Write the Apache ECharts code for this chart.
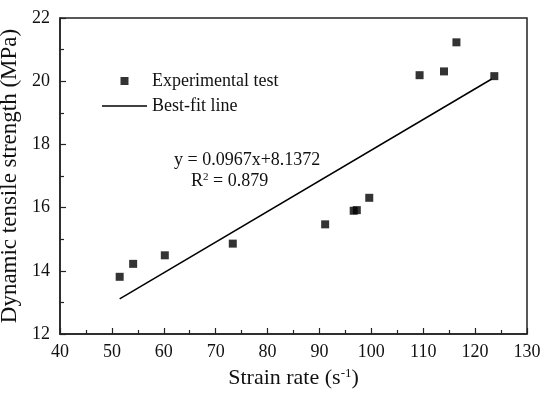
<!DOCTYPE html>
<html>
<head>
<meta charset="utf-8">
<script src="https://cdn.jsdelivr.net/npm/echarts@6/dist/echarts.min.js"></script>
<style>html,body{margin:0;padding:0;background:#fff}#c{width:550px;height:394px}</style>
</head>
<body>
<div id="c"></div>
<script>
// Data
const strainRate = [51.5, 54.1, 60.2, 73.3, 91.1, 96.6, 97.2, 99.6, 109.3, 114.0, 116.4, 123.7];
const strength   = [13.81, 14.22, 14.49, 14.86, 15.47, 15.90, 15.92, 16.31, 20.19, 20.31, 21.23, 20.16];
const fitX = [51.5, 123.2];
const fitY = [13.11, 20.07];
const xTicks = [40, 50, 60, 70, 80, 90, 100, 110, 120, 130];
const yTicks = [12, 14, 16, 18, 20, 22];
const seriesNames = ['Experimental test', 'Best-fit line'];
const equationText = 'y = 0.0967x+8.1372';
const r2Value = '0.879';

const FONT = 'Liberation Serif';
const AX = '#222';

const chart = echarts.init(document.getElementById('c'), null, {renderer: 'canvas'});
const axisCommon = {
  type: 'value',
  axisLine: {show: true, lineStyle: {color: AX, width: 1.5}},
  axisTick: {show: true, inside: true, length: 6, lineStyle: {color: AX, width: 1.2}},
  minorTick: {show: true, splitNumber: 2, length: 4, lineStyle: {color: AX, width: 1.2}},
  splitLine: {show: false},
  minorSplitLine: {show: false},
  axisLabel: {fontFamily: FONT, fontSize: 18, color: '#111'}
};
chart.setOption({
  animation: false,
  backgroundColor: '#fff',
  grid: {left: 60, right: 23, top: 18, bottom: 60, containLabel: false, outerBoundsMode: 'none',
         show: true, borderColor: AX, borderWidth: 1.5, backgroundColor: 'transparent'},
  xAxis: Object.assign({}, axisCommon, {
    min: xTicks[0], max: xTicks[xTicks.length - 1], interval: 10,
    axisLabel: Object.assign({}, axisCommon.axisLabel, {margin: 9}),
    name: '{a|Strain rate (s}{s|-1}{a|)}',
    nameLocation: 'middle', nameGap: 33,
    nameTextStyle: {rich: {
      a: {fontFamily: FONT, fontSize: 22, color: '#111'},
      s: {fontFamily: FONT, fontSize: 13, color: '#111', verticalAlign: 'top', padding: [0, 0, 10, 0]}
    }}
  }),
  yAxis: Object.assign({}, axisCommon, {
    min: yTicks[0], max: yTicks[yTicks.length - 1], interval: 2,
    axisLabel: Object.assign({}, axisCommon.axisLabel, {margin: 10}),
    name: 'Dynamic tensile strength (MPa)',
    nameLocation: 'middle', nameGap: 35,
    nameTextStyle: {fontFamily: FONT, fontSize: 23, color: '#111'}
  }),
  legend: {
    orient: 'vertical', left: 102, top: 72, padding: 0,
    itemWidth: 45, itemHeight: 8, itemGap: 7, itemTextGap: 6,
    textStyle: {fontFamily: FONT, fontSize: 18, color: '#111'},
    data: [
      {name: seriesNames[0], icon: 'path://M0,0h8v8h-8z'},
      {name: seriesNames[1], icon: 'path://M0,0h60v2h-60z'}
    ]
  },
  series: [
    {
      name: seriesNames[0], type: 'scatter', symbol: 'rect', symbolSize: 8,
      itemStyle: {color: '#000'},
      data: strainRate.map((x, i) => [x, strength[i]]),
      z: 3
    },
    {
      name: seriesNames[1], type: 'line', symbol: 'none', showSymbol: false,
      lineStyle: {color: '#000', width: 1.5}, itemStyle: {color: '#000'},
      data: fitX.map((x, i) => [x, fitY[i]]),
      z: 2
    }
  ],
  graphic: [
    {type: 'text', left: 174, top: 151, style: {text: equationText, font: '18px "Liberation Serif"', fill: '#111'}},
    {type: 'text', left: 191, top: 172, style: {
      text: '{a|R}{s|2}{a| = ' + r2Value + '}',
      rich: {
        a: {fontFamily: FONT, fontSize: 18, fill: '#111', color: '#111'},
        s: {fontFamily: FONT, fontSize: 11, fill: '#111', color: '#111', verticalAlign: 'top', padding: [0, 0, 8, 0]}
      }
    }}
  ]
});
</script>
</body>
</html>
